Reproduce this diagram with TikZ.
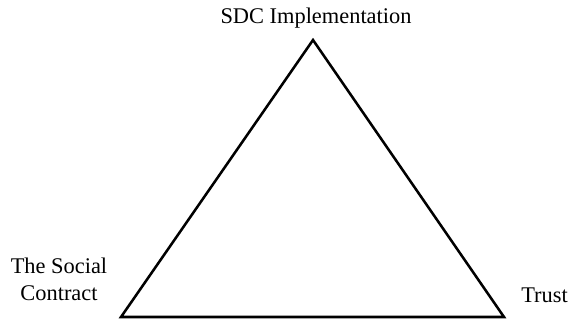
\documentclass[tikz,border=0pt]{standalone}
\usepackage{fontspec}
\setmainfont{Liberation Serif}
\begin{document}
\begin{tikzpicture}[x=0.75pt,y=-0.75pt,
  lbl/.style={font=\fontsize{16.8}{20.25}\selectfont, inner sep=0pt, align=center},
  edge/.style={line width=1.9pt, line join=miter}]
\useasboundingbox (0,0) rectangle (570,322);
% corners of the triangle
\coordinate (top) at (313,40);
\coordinate (bl) at (121,317);
\coordinate (br) at (504,317);
\draw[edge] (top) -- (br) -- (bl) -- cycle;
% labels at the corners
\node[lbl, anchor=base] (sdc) at (316,23) {SDC Implementation};
\node[lbl, anchor=base] (social) at (59,300) {The Social\\Contract};
\node[lbl, anchor=base west] (trust) at (521,302) {Trust};
\end{tikzpicture}
\end{document}
